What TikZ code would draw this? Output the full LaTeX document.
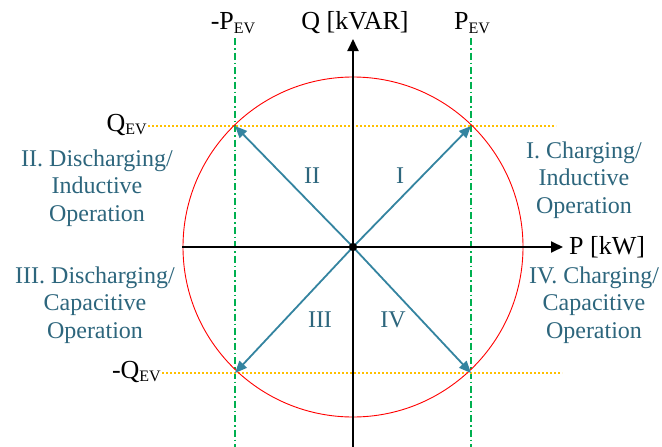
\documentclass[tikz,border=0pt]{standalone}
\usepackage{fontspec}
\setmainfont{Liberation Serif}
\usetikzlibrary{arrows.meta}
\definecolor{tealtxt}{RGB}{45,102,125}
\definecolor{tealarr}{RGB}{52,132,160}
\definecolor{evgreen}{RGB}{0,176,80}
\definecolor{evyellow}{RGB}{255,192,0}
\newcommand{\evsub}[1]{\raisebox{-3pt}{\fontsize{16}{16}\selectfont #1}}
\tikzset{
  axis/.style={line width=1.8pt, -{Triangle[length=12pt,width=11pt]}},
  vec/.style={tealarr, line width=1.8pt, -{Triangle[length=12pt,width=10pt]}},
  vline/.style={evgreen, line width=1.8pt, dash pattern=on 7pt off 3pt on 1.5pt off 3pt},
  hline/.style={evyellow, line width=1.8pt, dash pattern=on 2pt off 2pt},
  quad/.style={text=tealtxt, align=center, font=\fontsize{24}{27.5}\selectfont},
  roman/.style={text=tealtxt, font=\fontsize{24}{24}\selectfont},
  lbl/.style={font=\fontsize{26}{26}\selectfont, inner sep=0pt}
}
\begin{document}
\begin{tikzpicture}[x=1pt,y=-1pt]
\useasboundingbox[fill=white] (0,0) rectangle (662,447);
\coordinate (O) at (353,247);
\coordinate (A1) at (471,126);
\coordinate (A2) at (235,126);
\coordinate (A3) at (235,373);
\coordinate (A4) at (471,373);
% guide lines
\coordinate (g1t) at (235,38);
\coordinate (g1b) at (235,447);
\coordinate (g2t) at (471,38);
\coordinate (g2b) at (471,447);
\coordinate (h1l) at (148,126);
\coordinate (h1r) at (556,126);
\coordinate (h2l) at (162,373);
\coordinate (h2r) at (562,373);
\draw[vline] (g1t) -- (g1b);
\draw[vline] (g2t) -- (g2b);
\draw[hline] (h1l) -- (h1r);
\draw[hline] (h2l) -- (h2r);
% circle
\draw[red, line width=0.9pt] (O) circle (170pt);
% axes
\coordinate (xl) at (182,247);
\coordinate (xr) at (563,247);
\coordinate (yb) at (353,447);
\coordinate (yt) at (353,39);
\draw[axis] (xl) -- (xr);
\draw[axis] (yb) -- (yt);
% vectors
\draw[vec] (O) -- (A1);
\draw[vec] (O) -- (A2);
\draw[vec] (O) -- (A3);
\draw[vec] (O) -- (A4);
\fill (O) circle (4.2pt);
% axis labels
\node[lbl, anchor=base] (qlab) at (355,30) {Q [kVAR]};
\node[lbl, anchor=west] (plab) at (569,247) {P [kW]};
\node[lbl, anchor=base] (pev) at (472,30) {P\evsub{EV}};
\node[lbl, anchor=base] (mpev) at (233,30) {-P\evsub{EV}};
\node[lbl, anchor=east] (qev) at (147,125) {Q\evsub{EV}};
\node[lbl, anchor=east] (mqev) at (161,372) {-Q\evsub{EV}};
% quadrant descriptions
\node[quad] (t2) at (97,188) {II. Discharging/\\Inductive\\Operation};
\node[quad] (t1) at (584,180) {I. Charging/\\Inductive\\Operation};
\node[quad] (t3) at (95,305) {III. Discharging/\\Capacitive\\Operation};
\node[quad] (t4) at (594,305) {IV. Charging/\\Capacitive\\Operation};
% roman numerals
\node[roman] (r2) at (312,176) {II};
\node[roman] (r1) at (400,176) {I};
\node[roman] (r3) at (320,320) {III};
\node[roman] (r4) at (393,320) {IV};
\end{tikzpicture}
\end{document}
